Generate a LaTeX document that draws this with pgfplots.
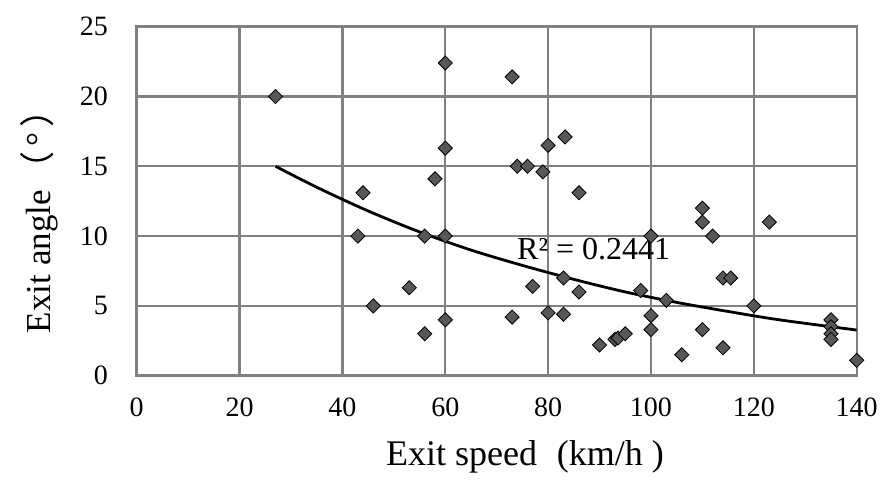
\documentclass[border=0pt]{standalone}
\usepackage{fontspec}
\setmainfont{Liberation Serif}
\newfontfamily\cjk{Noto Sans CJK SC}
\usepackage{pgfplots}
\pgfplotsset{compat=1.18}
\definecolor{gridgray}{RGB}{128,128,128}
\definecolor{markgray}{RGB}{87,87,87}
\begin{document}
\begin{tikzpicture}
\useasboundingbox (-68.35pt,-57.65pt) rectangle (374.15pt,187.85pt);
\begin{axis}[
 scale only axis, width=360pt, height=174.5pt,
 xmin=0, xmax=140, ymin=0, ymax=25,
 xtick={0,20,...,140}, ytick={0,5,...,25},
 grid=major, grid style={gridgray, line width=1.2pt},
 axis line style={gridgray, line width=1.2pt},
 tick style={draw=none},
 /pgf/number format/assume math mode=true,
 ticklabel style={font=\fontsize{14}{16}\selectfont, inner sep=0pt},
 yticklabel style={anchor=east, xshift=-14.2pt},
 xticklabel style={anchor=north, yshift=-11pt},
 xlabel={Exit speed\hspace{0.3em} (km/h )},
 ylabel={Exit angle\hspace{0.1em}{\cjk （}\hspace{2.5pt}°\hspace{2.5pt}{\cjk ）}},
 xlabel style={font=\fontsize{18}{20}\selectfont, at={(axis description cs:0.5393,-0.2559)}, anchor=base},
 ylabel style={font=\fontsize{17.5}{19}\selectfont, at={(axis description cs:-0.1204,0.102)}, anchor=base west},
]
\addplot[only marks, mark=square*, mark size=2.5pt,
  mark options={rotate=45, fill=markgray, draw=none}] coordinates {
(27,20) (44,13.1) (43,10) (46,5.0) (53,6.3) (56,10) (56,3.0) (58,14.1)
(60,22.4) (60,16.3) (60,10) (60,4.0) (73,21.4) (73,4.2) (74,15) (76,15)
(77,6.4) (79,14.6) (80,16.5) (80,4.5) (83,4.4) (83.3,17.1) (83,7.0)
(86,13.1) (86,6.0) (90,2.2) (93,2.6) (93.6,2.7) (95,3.0) (98,6.1)
(100,10) (100,4.3) (100,3.3) (103,5.4) (106,1.5) (110,12) (110,11)
(110,3.3) (112,10) (114,7) (115.5,7) (114,2) (120,5) (123,11)
(135,4) (135,3.5) (135,3.0) (135,2.6) (140,1.1)
};
\addplot[black, line width=1.4pt, smooth, no marks] coordinates {
(27,15.0) (35,13.5) (45,11.8) (55,10.3) (65,9.0) (75,7.9) (85,6.9)
(95,6.0) (105,5.25) (115,4.6) (125,4.0) (140,3.27)
};
\node[anchor=base west, font=\fontsize{16}{18}\selectfont, inner sep=0pt]
  at (axis cs:73.9,8.29) {R² = 0.2441};
\end{axis}
\end{tikzpicture}
\end{document}
